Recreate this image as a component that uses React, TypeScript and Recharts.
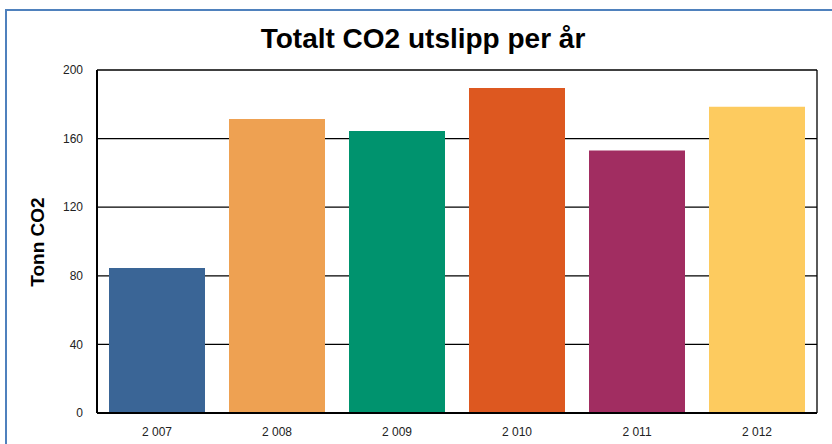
import { BarChart, Bar, XAxis, YAxis, CartesianGrid, Cell } from "recharts";

const years = ["2 007", "2 008", "2 009", "2 010", "2 011", "2 012"];
const tonnCO2 = [84.5, 171.5, 164.5, 189.5, 153, 178.5];
const barColors = ["#3A6596", "#EEA152", "#00936E", "#DD5820", "#A12D61", "#FDCB5F"];
const yTicks = [0, 40, 80, 120, 160, 200];

const chartData = years.map((year, i) => ({ year, value: tonnCO2[i] }));

const tickFont = { fill: "#222", fontSize: 12, fontFamily: "'Liberation Sans Narrow', 'Liberation Sans', Arial, sans-serif" };

// frame the plot area on both sides, from the grid's own offset
const plotEdges = ({ offset }: any) => [offset.left, offset.left + offset.width];

export default function App() {
  return (
    <div style={{ position: "absolute", left: 0, top: 0, width: 832, height: 444, overflow: "hidden", background: "#fff" }}>
      <div
        style={{
          position: "absolute",
          left: 5,
          top: 9,
          width: 900,
          height: 500,
          border: "2px solid #4F81BD",
        }}
      />
      <div
        style={{
          position: "absolute",
          left: 0,
          width: 846,
          top: 23,
          textAlign: "center",
          fontFamily: "'Liberation Sans', Arial, sans-serif",
          fontWeight: "bold",
          fontSize: 28,
          color: "#000",
        }}
      >
        Totalt CO2 utslipp per år
      </div>
      <div
        style={{
          position: "absolute",
          left: 38,
          top: 242,
          transform: "translate(-50%, -50%) rotate(-90deg)",
          whiteSpace: "nowrap",
          fontFamily: "'Liberation Sans', Arial, sans-serif",
          fontWeight: "bold",
          fontSize: 19,
          color: "#000",
        }}
      >
        Tonn CO2
      </div>
      <div style={{ position: "absolute", left: 0, top: 0 }}>
        <BarChart
          width={832}
          height={444}
          data={chartData}
          margin={{ top: 70, right: 15, bottom: 0, left: 57 }}
          barCategoryGap="10%"
        >
          <CartesianGrid
            stroke="#000"
            strokeWidth={1.3}
            verticalCoordinatesGenerator={plotEdges}
          />
          <XAxis
            dataKey="year"
            height={31}
            tickLine={false}
            axisLine={{ stroke: "#000", strokeWidth: 2 }}
            tick={tickFont}
            tickMargin={8}
            interval={0}
          />
          <YAxis
            width={40}
            domain={[0, 200]}
            ticks={yTicks}
            tickLine={false}
            axisLine={{ stroke: "#000", strokeWidth: 2 }}
            tick={tickFont}
            tickMargin={8}
          />
          <Bar dataKey="value" isAnimationActive={false}>
            {chartData.map((d, i) => (
              <Cell key={d.year} fill={barColors[i]} />
            ))}
          </Bar>
        </BarChart>
      </div>
    </div>
  );
}
